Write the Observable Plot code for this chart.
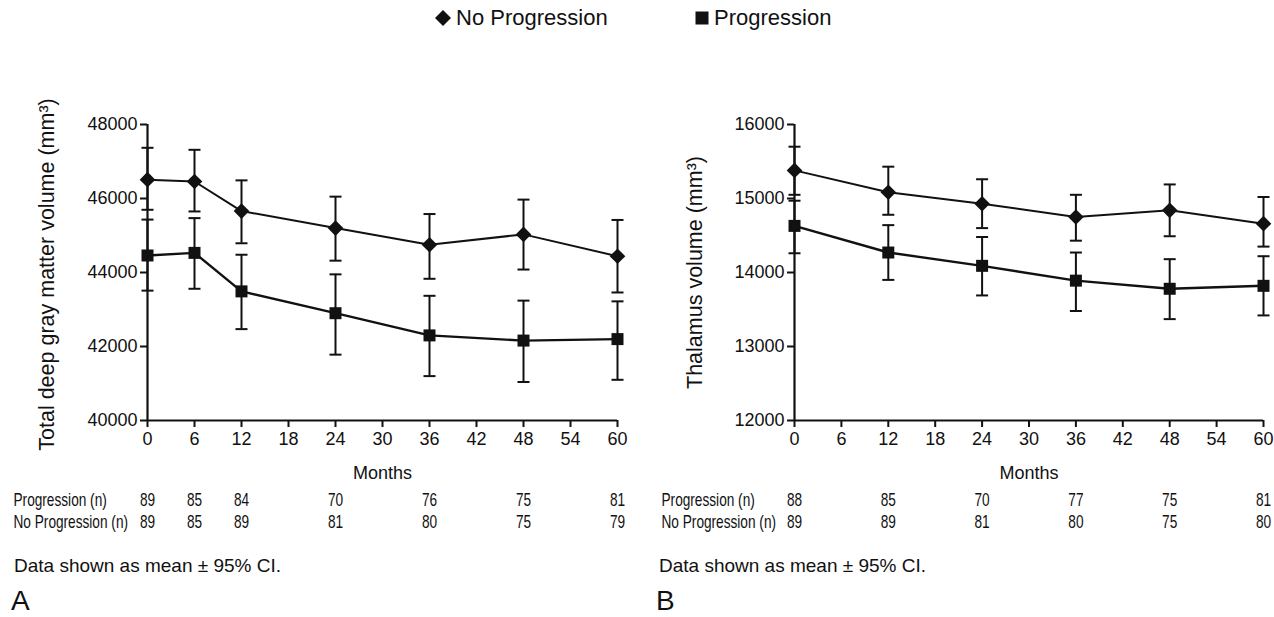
<!DOCTYPE html>
<html><head><meta charset="utf-8">
<script src="https://cdn.jsdelivr.net/npm/d3@7"></script>
<script src="https://cdn.jsdelivr.net/npm/@observablehq/plot@0.6"></script>
<style>
body{margin:0;background:#fff;font-family:"Liberation Sans",Arial,sans-serif;color:#111}
#root{position:relative;width:1274px;height:617px;overflow:hidden;background:#fff}
.abs{position:absolute}
.leg{position:absolute;top:7px;display:flex;align-items:center;font-size:22px;line-height:1;white-space:nowrap}
.leg svg{margin-right:4px}
.cap{position:absolute;font-size:19px;line-height:1;white-space:nowrap}
.let{position:absolute;font-size:28px;line-height:1}
</style></head><body><div id="root"></div>
<script>
// ---- data ----
const seriesNames = ["No Progression", "Progression"];
const tableRows = ["Progression (n)", "No Progression (n)"];

// Panel A: Total deep gray matter volume
const monthsA = [0, 6, 12, 24, 36, 48, 60];
const aNoProgMean = [46510, 46460, 45660, 45200, 44750, 45030, 44440];
const aNoProgLo   = [45695, 45650, 44790, 44320, 43830, 44080, 43460];
const aNoProgHi   = [47370, 47316, 46490, 46050, 45580, 45970, 45420];
const aProgMean   = [44460, 44530, 43490, 42900, 42300, 42160, 42200];
const aProgLo     = [43510, 43560, 42470, 41780, 41200, 41040, 41100];
const aProgHi     = [45430, 45470, 44480, 43950, 43370, 43240, 43220];
const aProgN      = [89, 85, 84, 70, 76, 75, 81];
const aNoProgN    = [89, 85, 89, 81, 80, 75, 79];
const yTicksA = [40000, 42000, 44000, 46000, 48000];

// Panel B: Thalamus volume
const monthsB = [0, 12, 24, 36, 48, 60];
const bNoProgMean = [15380, 15085, 14930, 14750, 14840, 14660];
const bNoProgLo   = [15050, 14780, 14600, 14430, 14490, 14350];
const bNoProgHi   = [15700, 15430, 15260, 15050, 15190, 15020];
const bProgMean   = [14630, 14270, 14090, 13890, 13780, 13820];
const bProgLo     = [14260, 13900, 13690, 13480, 13370, 13420];
const bProgHi     = [14970, 14640, 14480, 14270, 14180, 14220];
const bProgN      = [88, 85, 70, 77, 75, 81];
const bNoProgN    = [89, 89, 81, 80, 75, 80];
const yTicksB = [12000, 13000, 14000, 15000, 16000];

const xTicks = [0, 6, 12, 18, 24, 30, 36, 42, 48, 54, 60];

// ---- helpers ----
const INK = "#111";
const capSym = {draw(ctx, size){ const r = Math.sqrt(size/Math.PI); ctx.moveTo(-r,0); ctx.lineTo(r,0); }};
const diamondSym = {draw(ctx, size){ const r = Math.sqrt(size/Math.PI); ctx.moveTo(0,-r); ctx.lineTo(r,0); ctx.lineTo(0,r); ctx.lineTo(-r,0); ctx.closePath(); }};
const squareSym = {draw(ctx, size){ const r = Math.sqrt(size/Math.PI); ctx.rect(-r,-r,2*r,2*r); }};

function build(months, npM, npL, npH, pM, pL, pH) {
  const rows = [];
  months.forEach((m, i) => rows.push({month: m, group: seriesNames[0], mean: npM[i], lo: npL[i], hi: npH[i]}));
  months.forEach((m, i) => rows.push({month: m, group: seriesNames[1], mean: pM[i], lo: pL[i], hi: pH[i]}));
  return rows;
}

function panel(cfg) {
  const data = build(cfg.months, ...cfg.series);
  const main = Plot.plot({
    width: 637, height: 440,
    marginTop: 74, marginBottom: 70, marginLeft: cfg.ml, marginRight: cfg.mr,
    style: {fontFamily: "Liberation Sans, Arial, sans-serif", fontSize: "18px", color: INK, background: "transparent", overflow: "visible"},
    x: {domain: [0, 60]},
    y: {domain: cfg.yDomain},
    marks: [
      Plot.axisX({ticks: xTicks, tickSize: 7, strokeWidth: 2, tickPadding: 5, fontSize: 18,
        label: "Months", labelAnchor: "center", labelOffset: 58, labelArrow: "none"}),
      Plot.axisY({ticks: cfg.yTicks, tickSize: 7, strokeWidth: 2, tickPadding: 3, fontSize: 18,
        tickFormat: d => String(d), label: null}),
      Plot.text([cfg.yLabel], {frameAnchor: "left", rotate: -90, text: d => d, dx: cfg.labelDx, dy: cfg.labelDy,
        fontSize: 21.5, fill: INK, textAnchor: "middle", lineAnchor: "middle"}),
      Plot.ruleX([0], {stroke: INK, strokeWidth: 2.2}),
      Plot.ruleY([cfg.yDomain[0]], {stroke: INK, strokeWidth: 2.2}),
      Plot.ruleX(data, {x: "month", y1: "lo", y2: "hi", stroke: INK, strokeWidth: 2}),
      Plot.dot(data, {x: "month", y: "lo", symbol: capSym, r: 6, fill: "none", stroke: INK, strokeWidth: 2}),
      Plot.dot(data, {x: "month", y: "hi", symbol: capSym, r: 6, fill: "none", stroke: INK, strokeWidth: 2}),
      Plot.line(data.filter(d => d.group === seriesNames[0]), {x: "month", y: "mean", stroke: INK, strokeWidth: 2}),
      Plot.line(data.filter(d => d.group === seriesNames[1]), {x: "month", y: "mean", stroke: INK, strokeWidth: 2.4}),
      Plot.dot(data.filter(d => d.group === seriesNames[0]), {x: "month", y: "mean", symbol: diamondSym, r: 7.8, fill: INK, stroke: "none"}),
      Plot.dot(data.filter(d => d.group === seriesNames[1]), {x: "month", y: "mean", symbol: squareSym, r: 6, fill: INK, stroke: "none"})
    ]
  });
  const counts = [];
  cfg.months.forEach((m, i) => counts.push({month: m, row: tableRows[0], n: cfg.progN[i]}));
  cfg.months.forEach((m, i) => counts.push({month: m, row: tableRows[1], n: cfg.noProgN[i]}));
  const table = Plot.plot({
    width: 637, height: 44,
    marginTop: 0, marginBottom: 0, marginLeft: cfg.ml, marginRight: cfg.mr,
    style: {fontFamily: "Liberation Sans, Arial, sans-serif", fontSize: "17.5px", color: INK, background: "transparent", overflow: "visible"},
    x: {domain: [0, 60], axis: null},
    y: {type: "band", domain: tableRows, padding: 0},
    marks: [
      Plot.axisY({tickSize: 0, tickPadding: 0, textAnchor: "start", dx: cfg.rowLabelX - cfg.ml, fontSize: 17.5, label: null}),
      Plot.text(counts, {x: "month", y: "row", text: "n", fontSize: 17.5, fill: INK})
    ]
  });
  // condensed look of the reference's table type: squeeze each label horizontally around its anchor
  table.querySelectorAll("text").forEach(t => {
    const tr = t.getAttribute("transform") || "";
    t.setAttribute("transform", tr + " scale(0.78,1)");
  });
  return {main, table};
}

const root = document.getElementById("root");
function place(el, left, top) { el.classList.add("abs"); el.style.left = left + "px"; el.style.top = top + "px"; root.appendChild(el); }

// legend
const legendSymbols = [
  '<svg width="18" height="18" viewBox="-9 -9 18 18"><path d="M0,-8L8,0L0,8L-8,0Z" fill="#111"/></svg>',
  '<svg width="16" height="16" viewBox="-8 -8 16 16"><rect x="-6.5" y="-6.5" width="13" height="13" fill="#111"/></svg>'
];
const legendLeft = [434, 694];
seriesNames.forEach((name, i) => {
  const d = document.createElement("div");
  d.className = "leg";
  d.style.left = legendLeft[i] + "px";
  d.innerHTML = legendSymbols[i] + "<span>" + name + "</span>";
  root.appendChild(d);
});

const A = panel({
  months: monthsA, series: [aNoProgMean, aNoProgLo, aNoProgHi, aProgMean, aProgLo, aProgHi],
  progN: aProgN, noProgN: aNoProgN, yDomain: [40000, 48000], yTicks: yTicksA,
  yLabel: "Total deep gray matter volume (mm³)", ml: 147, mr: 20, labelDx: -100, labelDy: 2, rowLabelX: 13
});
const B = panel({
  months: monthsB, series: [bNoProgMean, bNoProgLo, bNoProgHi, bProgMean, bProgLo, bProgHi],
  progN: bProgN, noProgN: bNoProgN, yDomain: [12000, 16000], yTicks: yTicksB,
  yLabel: "Thalamus volume (mm³)", ml: 157, mr: 11, labelDx: -99, labelDy: 0, rowLabelX: 24
});
place(A.main, 0, 50);
place(A.table, 0, 489);
place(B.main, 637, 50);
place(B.table, 637, 489);

const captions = [["Data shown as mean ± 95% CI.", 14], ["Data shown as mean ± 95% CI.", 659]];
captions.forEach(([t, x]) => { const d = document.createElement("div"); d.className = "cap"; d.textContent = t; d.style.left = x + "px"; d.style.top = "556px"; root.appendChild(d); });
const letters = [["A", 11], ["B", 656]];
letters.forEach(([t, x]) => { const d = document.createElement("div"); d.className = "let"; d.textContent = t; d.style.left = x + "px"; d.style.top = "587px"; root.appendChild(d); });
</script></body></html>
